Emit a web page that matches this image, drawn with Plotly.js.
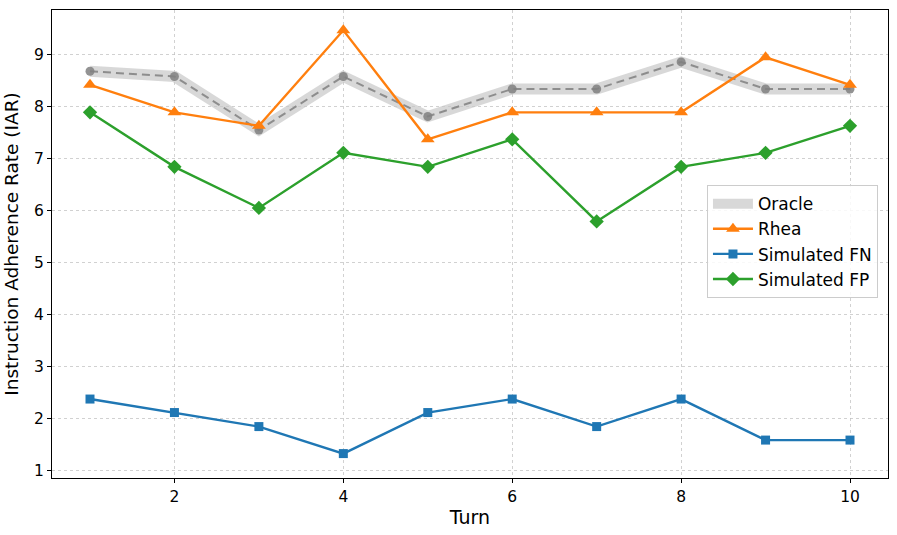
<!DOCTYPE html>
<html>
<head>
<meta charset="utf-8">
<script src="https://cdn.plot.ly/plotly-3.0.1.min.js"></script>
<style>html,body{margin:0;padding:0;background:#fff;}#chart{width:897px;height:535px;}</style>
</head>
<body>
<div id="chart"></div>
<script>
const turns = [1, 2, 3, 4, 5, 6, 7, 8, 9, 10];
const oracle = [8.68, 8.58, 7.55, 8.58, 7.81, 8.34, 8.34, 8.86, 8.34, 8.34];
const rhea = [8.42, 7.89, 7.63, 9.47, 7.37, 7.89, 7.89, 7.89, 8.95, 8.42];
const simFN = [2.37, 2.11, 1.84, 1.32, 2.11, 2.37, 1.84, 2.37, 1.58, 1.58];
const simFP = [7.89, 6.84, 6.05, 7.11, 6.84, 7.37, 5.79, 6.84, 7.11, 7.63];
const xTicks = [2, 4, 6, 8, 10];
const yTicks = [1, 2, 3, 4, 5, 6, 7, 8, 9];

const traces = [
  {x: turns, y: oracle, name: 'Oracle', mode: 'lines',
   line: {color: 'rgba(200,200,200,0.7)', width: 11}},
  {x: turns, y: oracle, name: 'Oracle', mode: 'lines+markers', showlegend: false,
   line: {color: 'rgba(128,128,128,0.85)', width: 2, dash: '8px,5px'},
   marker: {symbol: 'circle', size: 9, color: 'rgba(128,128,128,0.85)'}},
  {x: turns, y: rhea, name: 'Rhea', mode: 'lines+markers',
   line: {color: '#ff7f0e', width: 2.4},
   marker: {symbol: 'triangle-up', size: 12, color: '#ff7f0e'}},
  {x: turns, y: simFN, name: 'Simulated FN', mode: 'lines+markers',
   line: {color: '#1f77b4', width: 2.4},
   marker: {symbol: 'square', size: 9, color: '#1f77b4'}},
  {x: turns, y: simFP, name: 'Simulated FP', mode: 'lines+markers',
   line: {color: '#2ca02c', width: 2.4},
   marker: {symbol: 'diamond', size: 11, color: '#2ca02c'}}
];

const axisCommon = {
  showline: true, linecolor: '#000', linewidth: 1, mirror: true,
  ticks: 'outside', ticklen: 4, tickcolor: '#000', tickwidth: 1,
  showgrid: true, gridcolor: 'rgba(190,190,190,0.7)', griddash: '3px,3px', gridwidth: 1,
  zeroline: false,
  tickfont: {family: 'DejaVu Sans', size: 15.5, color: '#000'}
};

const layout = {
  width: 897, height: 535,
  margin: {l: 52, r: 9, t: 10, b: 57},
  paper_bgcolor: '#fff', plot_bgcolor: '#fff',
  font: {family: 'DejaVu Sans', color: '#000'},
  xaxis: Object.assign({}, axisCommon, {
    range: [0.55, 10.45], tickmode: 'array', tickvals: xTicks,
    title: {text: 'Turn', font: {family: 'DejaVu Sans', size: 19}, standoff: 6}
  }),
  yaxis: Object.assign({}, axisCommon, {
    range: [0.85, 9.86], tickmode: 'array', tickvals: yTicks,
    title: {text: 'Instruction Adherence Rate (IAR)', font: {family: 'DejaVu Sans', size: 18.5}, standoff: 10}
  }),
  legend: {
    x: 0.988, y: 0.505, xanchor: 'right', yanchor: 'middle',
    bgcolor: 'rgba(255,255,255,0.85)', bordercolor: '#cccccc', borderwidth: 1,
    font: {family: 'DejaVu Sans', size: 17, color: '#000'},
    itemwidth: 40, tracegroupgap: 0
  },
  showlegend: true
};

Plotly.newPlot('chart', traces, layout, {displayModeBar: false, staticPlot: true});
</script>
</body>
</html>
